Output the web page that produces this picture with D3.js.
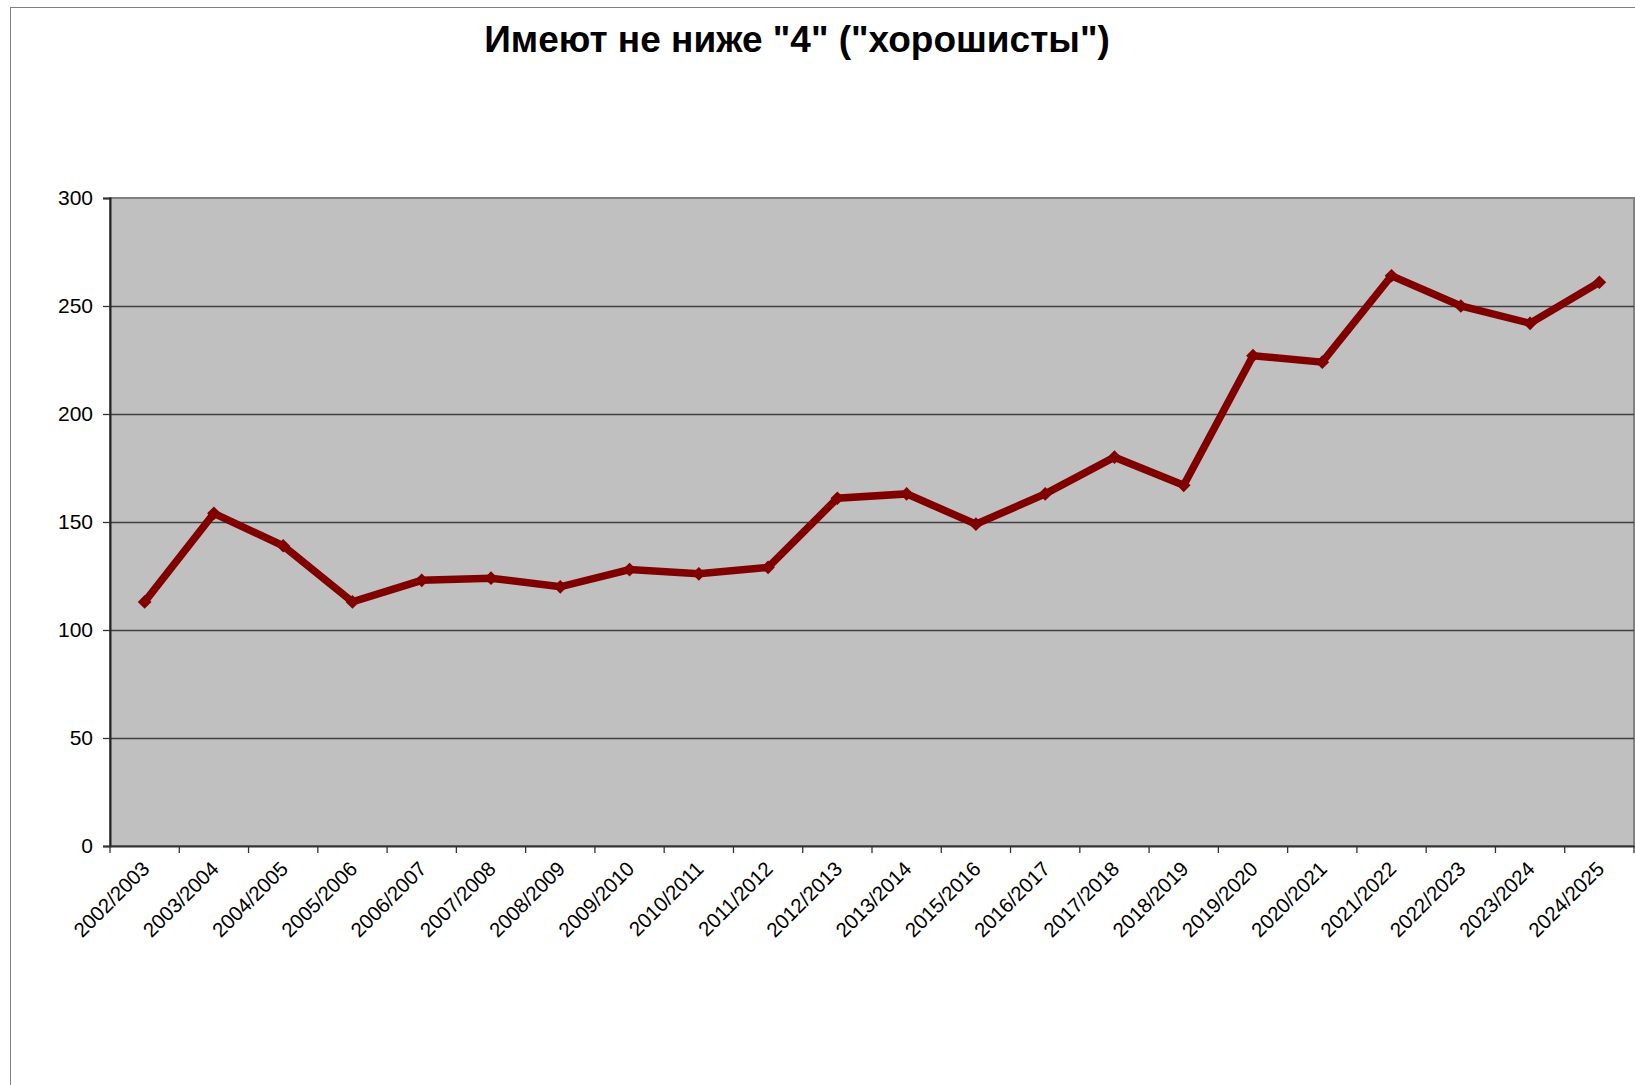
<!DOCTYPE html>
<html>
<head>
<meta charset="utf-8">
<title>Имеют не ниже "4"</title>
<script src="https://cdn.jsdelivr.net/npm/d3@7/dist/d3.min.js"></script>
<style>
    body { margin: 0; background: #fff; }
    svg { display: block; font-family: "Liberation Sans", Arial, sans-serif; }
</style>
</head>
<body>
<div id="chart"></div>
<script>
    var years = ["2002/2003", "2003/2004", "2004/2005", "2005/2006", "2006/2007", "2007/2008",
                 "2008/2009", "2009/2010", "2010/2011", "2011/2012", "2012/2013", "2013/2014",
                 "2015/2016", "2016/2017", "2017/2018", "2018/2019", "2019/2020", "2020/2021",
                 "2021/2022", "2022/2023", "2023/2024", "2024/2025"];
    var goodStudents = [113, 154, 139, 113, 123, 124, 120, 128, 126, 129, 161, 163,
                        149, 163, 180, 167, 227, 224, 264, 250, 242, 261];
    var yTicks = [0, 50, 100, 150, 200, 250, 300];
    var title = 'Имеют не ниже "4" ("хорошисты")';

    var width = 1635, height = 1085;
    var plot = {left: 110, top: 198, right: 1634, bottom: 846};

    var svg = d3.select("#chart").append("svg")
        .attr("width", width)
        .attr("height", height);

    // outer chart frame, runs off the right and bottom of the picture
    svg.append("rect")
        .attr("x", 10.5).attr("y", 7.5)
        .attr("width", 1700).attr("height", 1200)
        .attr("fill", "#fff")
        .attr("stroke", "#808080")
        .attr("stroke-width", 1);

    svg.append("text")
        .attr("x", 797).attr("y", 52)
        .attr("text-anchor", "middle")
        .attr("font-size", 37)
        .attr("font-weight", "bold")
        .text(title);

    var x = d3.scaleBand().domain(years).range([plot.left, plot.right]).padding(0);
    var y = d3.scaleLinear().domain([0, 300]).range([plot.bottom, plot.top]);

    // plot background
    svg.append("rect")
        .attr("x", plot.left).attr("y", plot.top)
        .attr("width", plot.right - plot.left)
        .attr("height", plot.bottom - plot.top)
        .attr("fill", "#c0c0c0")
        .attr("stroke", "#808080")
        .attr("stroke-width", 2);

    // gridlines
    svg.append("g")
        .selectAll("line")
        .data(yTicks.filter(function(d){ return d > 0 && d < 300; }))
        .join("line")
        .attr("x1", plot.left).attr("x2", plot.right)
        .attr("y1", function(d){ return Math.round(y(d)) + 0.5; })
        .attr("y2", function(d){ return Math.round(y(d)) + 0.5; })
        .attr("stroke", "#404040")
        .attr("stroke-width", 1.5);

    // y axis
    var yAxis = svg.append("g")
        .attr("transform", "translate(" + plot.left + ",0)")
        .call(d3.axisLeft(y).tickValues(yTicks).tickSize(7).tickPadding(10));
    yAxis.select(".domain").attr("stroke", "#222").attr("stroke-width", 2);
    yAxis.selectAll(".tick line").attr("stroke", "#333").attr("stroke-width", 1.3);
    yAxis.selectAll(".tick text")
        .attr("font-size", 21)
        .attr("fill", "#000")
        .attr("font-family", "Liberation Sans, Arial, sans-serif");

    // x axis: labels under each category
    var xAxis = svg.append("g")
        .attr("transform", "translate(0," + plot.bottom + ")")
        .call(d3.axisBottom(x).tickSize(0));
    xAxis.select(".domain").attr("stroke", "#333").attr("stroke-width", 2);
    xAxis.selectAll(".tick text")
        .attr("font-size", 20.5)
        .attr("fill", "#000")
        .attr("font-family", "Liberation Sans, Arial, sans-serif")
        .attr("text-anchor", "end")
        .attr("transform", "translate(1,19) rotate(-45)")
        .attr("dy", "0.35em")
        .attr("y", 0);

    // x tick marks sit on category boundaries
    var bounds = years.map(function(d){ return x(d); }).concat([x.range()[1]]);
    xAxis.append("g")
        .selectAll("line")
        .data(bounds)
        .join("line")
        .attr("x1", function(d){ return d; })
        .attr("x2", function(d){ return d; })
        .attr("y1", 0).attr("y2", 7)
        .attr("stroke", "#333")
        .attr("stroke-width", 1.3);

    // series
    var cx = function(d, i){ return x(years[i]) + x.bandwidth() / 2; };
    var line = d3.line()
        .x(function(d, i){ return cx(d, i); })
        .y(function(d){ return y(d); });

    svg.append("path")
        .datum(goodStudents)
        .attr("d", line)
        .attr("fill", "none")
        .attr("stroke", "#800000")
        .attr("stroke-width", 7.5)
        .attr("stroke-linejoin", "miter");

    svg.append("g")
        .selectAll("path")
        .data(goodStudents)
        .join("path")
        .attr("d", d3.symbol().type(d3.symbolDiamond2).size(120))
        .attr("transform", function(d, i){ return "translate(" + cx(d, i) + "," + y(d) + ")"; })
        .attr("fill", "#800000");
</script>
</body>
</html>
